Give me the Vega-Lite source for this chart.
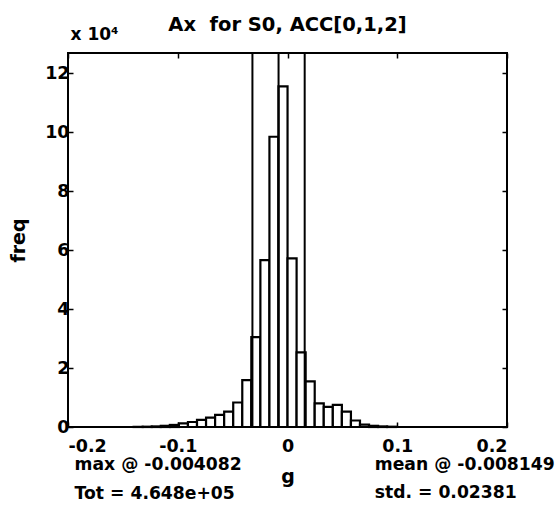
{
  "$schema": "https://vega.github.io/schema/vega-lite/v6.json",
  "width": 439,
  "height": 374,
  "autosize": {"type": "none"},
  "padding": {"left": 68, "top": 53, "right": 53, "bottom": 81},
  "background": "white",
  "title": {"text": "Ax\u00a0 for S0, ACC[0,1,2]", "fontSize": 19.5, "fontWeight": "bold", "color": "black", "font": "DejaVu Sans", "anchor": "middle", "offset": -10},
  "config": {
    "font": "DejaVu Sans",
    "view": {"stroke": "black", "strokeWidth": 2},
    "axis": {
      "domain": false, "grid": false, "ticks": true, "tickSize": -5, "tickColor": "black", "tickWidth": 1.5,
      "labelFont": "DejaVu Sans", "labelFontSize": 17.5, "labelFontWeight": "bold", "labelColor": "black",
      "titleFont": "DejaVu Sans", "titleFontSize": 19, "titleFontWeight": "bold", "titleColor": "black"
    }
  },
  "resolve": {"axis": {"x": "independent", "y": "independent"}},
  "layer": [
    {
      "data": {"values": [
        {"g0": -0.140207, "g1": -0.131957, "freq": 50},
        {"g0": -0.131957, "g1": -0.123707, "freq": 100},
        {"g0": -0.123707, "g1": -0.115457, "freq": 200},
        {"g0": -0.115457, "g1": -0.107207, "freq": 400},
        {"g0": -0.107207, "g1": -0.098957, "freq": 700},
        {"g0": -0.098957, "g1": -0.090707, "freq": 1200},
        {"g0": -0.090707, "g1": -0.082457, "freq": 1700},
        {"g0": -0.082457, "g1": -0.074207, "freq": 2400},
        {"g0": -0.074207, "g1": -0.065957, "freq": 3200},
        {"g0": -0.065957, "g1": -0.057707, "freq": 4100},
        {"g0": -0.057707, "g1": -0.049457, "freq": 5200},
        {"g0": -0.049457, "g1": -0.041207, "freq": 8300},
        {"g0": -0.041207, "g1": -0.032957, "freq": 15900},
        {"g0": -0.032957, "g1": -0.024707, "freq": 30500},
        {"g0": -0.024707, "g1": -0.016457, "freq": 56600},
        {"g0": -0.016457, "g1": -0.008207, "freq": 98400},
        {"g0": -0.008207, "g1": 0.000043, "freq": 115500},
        {"g0": 0.000043, "g1": 0.008293, "freq": 57200},
        {"g0": 0.008293, "g1": 0.016543, "freq": 25300},
        {"g0": 0.016543, "g1": 0.024793, "freq": 15500},
        {"g0": 0.024793, "g1": 0.033043, "freq": 8000},
        {"g0": 0.033043, "g1": 0.041293, "freq": 6800},
        {"g0": 0.041293, "g1": 0.049543, "freq": 7500},
        {"g0": 0.049543, "g1": 0.057793, "freq": 5200},
        {"g0": 0.057793, "g1": 0.066043, "freq": 2200},
        {"g0": 0.066043, "g1": 0.074293, "freq": 800},
        {"g0": 0.074293, "g1": 0.082543, "freq": 400},
        {"g0": 0.082543, "g1": 0.090793, "freq": 200},
        {"g0": 0.090793, "g1": 0.099043, "freq": 100}
      ]},
      "mark": {"type": "bar", "fill": "white", "stroke": "black", "strokeWidth": 2.2},
      "encoding": {
        "x": {"field": "g0", "type": "quantitative", "scale": {"domain": [-0.2, 0.2], "nice": false, "zero": false},
              "axis": {"orient": "bottom", "values": [-0.2, -0.1, 0, 0.1, 0.2], "labelExpr": "'' + datum.value", "title": "g", "labelPadding": 15, "titlePadding": 13}},
        "x2": {"field": "g1"},
        "y": {"field": "freq", "type": "quantitative", "scale": {"domain": [0, 126800], "nice": false},
              "axis": {"orient": "left", "values": [0, 20000, 40000, 60000, 80000, 100000, 120000], "labelExpr": "'' + datum.value / 10000", "title": "freq", "labelPadding": 4, "titlePadding": 16}},
        "y2": {"datum": 0}
      }
    },
    {
      "data": {"values": [
        {"g": -0.031959, "stat": "mean - std"},
        {"g": -0.008149, "stat": "mean"},
        {"g": 0.015661, "stat": "mean + std"}
      ]},
      "mark": {"type": "rule", "color": "black", "strokeWidth": 2},
      "encoding": {
        "x": {"field": "g", "type": "quantitative",
              "axis": {"orient": "top", "values": [-0.2, -0.1, 0, 0.1, 0.2], "labels": false, "title": "x 10⁴", "titleFont": "DejaVu Sans", "titleAngle": 0, "titleAlign": "left", "titleBaseline": "bottom", "titleX": 2, "titleY": -10, "titleFontSize": 17}}
      }
    },
    {
      "data": {"values": [{"label": "max @ -0.004082"}]},
      "mark": {"type": "text", "align": "left", "baseline": "middle", "font": "DejaVu Sans", "fontSize": 17.2, "fontWeight": "bold", "color": "black"},
      "encoding": {
        "text": {"field": "label"},
        "x": {"datum": -0.194, "type": "quantitative", "axis": null},
        "y": {"datum": -12900, "type": "quantitative",
              "axis": {"orient": "right", "values": [0, 20000, 40000, 60000, 80000, 100000, 120000], "labels": false, "title": null}}
      }
    },
    {
      "data": {"values": [{"label": "Tot = 4.648e+05"}]},
      "mark": {"type": "text", "align": "left", "baseline": "middle", "font": "DejaVu Sans", "fontSize": 17.2, "fontWeight": "bold", "color": "black"},
      "encoding": {
        "text": {"field": "label"},
        "x": {"datum": -0.194, "type": "quantitative", "axis": null},
        "y": {"datum": -22700, "type": "quantitative", "axis": null}
      }
    },
    {
      "data": {"values": [{"label": "mean @ -0.008149"}]},
      "mark": {"type": "text", "align": "left", "baseline": "middle", "font": "DejaVu Sans", "fontSize": 17.2, "fontWeight": "bold", "color": "black"},
      "encoding": {
        "text": {"field": "label"},
        "x": {"datum": 0.0795, "type": "quantitative", "axis": null},
        "y": {"datum": -12900, "type": "quantitative", "axis": null}
      }
    },
    {
      "data": {"values": [{"label": "std. = 0.02381"}]},
      "mark": {"type": "text", "align": "left", "baseline": "middle", "font": "DejaVu Sans", "fontSize": 17.2, "fontWeight": "bold", "color": "black"},
      "encoding": {
        "text": {"field": "label"},
        "x": {"datum": 0.0795, "type": "quantitative", "axis": null},
        "y": {"datum": -22300, "type": "quantitative", "axis": null}
      }
    }
  ]
}
